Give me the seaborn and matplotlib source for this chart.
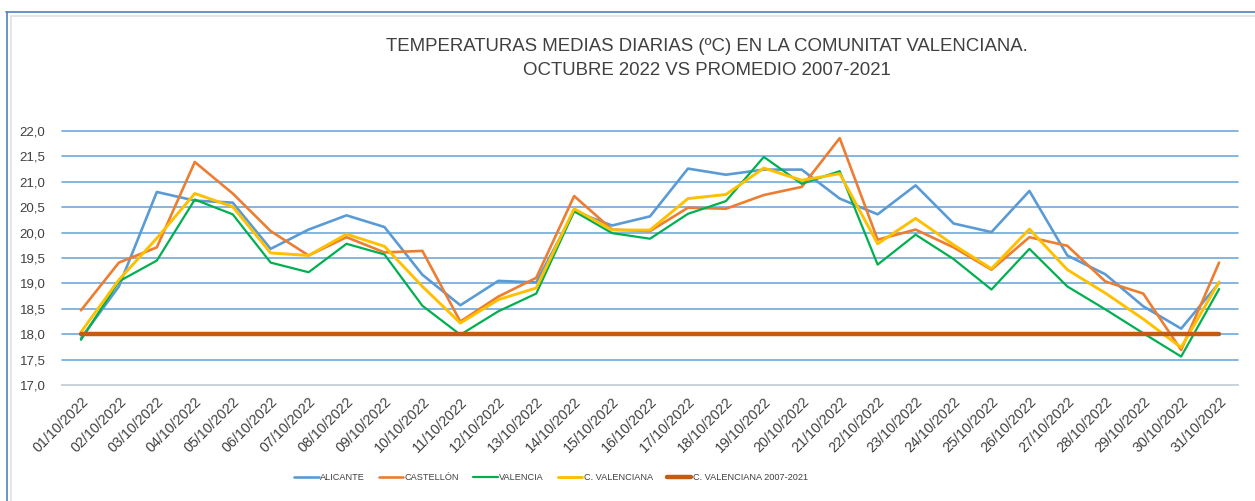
import pandas as pd
import matplotlib
matplotlib.use('Agg')
import matplotlib.pyplot as plt
from matplotlib.lines import Line2D
from matplotlib.ticker import FuncFormatter, MultipleLocator
import seaborn as sns

sns.set_style('white')
plt.rcParams['font.family'] = ['Liberation Sans', 'DejaVu Sans']

# daily mean temperatures, October 2022
dates = ['%02d/10/2022' % d for d in range(1, 32)]
alicante = [17.92, 18.94, 20.80, 20.63, 20.59, 19.68, 20.06, 20.34, 20.11, 19.17,
            18.57, 19.05, 19.02, 20.42, 20.14, 20.32, 21.26, 21.14, 21.24, 21.24,
            20.67, 20.36, 20.93, 20.18, 20.01, 20.82, 19.55, 19.18, 18.55, 18.11, 19.01]
castellon = [18.47, 19.41, 19.71, 21.39, 20.77, 20.03, 19.55, 19.91, 19.61, 19.64,
             18.25, 18.74, 19.11, 20.72, 20.06, 20.03, 20.49, 20.47, 20.74, 20.90,
             21.86, 19.86, 20.06, 19.71, 19.27, 19.91, 19.74, 19.04, 18.80, 17.69, 19.41]
valencia = [17.89, 19.04, 19.45, 20.65, 20.36, 19.41, 19.22, 19.78, 19.57, 18.56,
            17.99, 18.45, 18.80, 20.42, 19.99, 19.88, 20.37, 20.62, 21.49, 20.96,
            21.21, 19.37, 19.96, 19.48, 18.88, 19.68, 18.94, 18.49, 18.02, 17.56, 18.89]
c_valenciana = [18.04, 19.07, 19.89, 20.77, 20.51, 19.60, 19.55, 19.97, 19.73, 18.94,
                18.22, 18.68, 18.91, 20.47, 20.05, 20.05, 20.67, 20.75, 21.27, 21.03,
                21.16, 19.78, 20.28, 19.76, 19.29, 20.07, 19.27, 18.81, 18.30, 17.74, 19.03]
promedio = [18.0] * 31   # C. Valenciana 2007-2021 average

df = pd.DataFrame({'pos': range(len(dates)),
                   'ALICANTE': alicante,
                   'CASTELLÓN': castellon,
                   'VALENCIA': valencia,
                   'C. VALENCIANA': c_valenciana,
                   'C. VALENCIANA 2007-2021': promedio})

colors = {'ALICANTE': '#5B9BD5', 'CASTELLÓN': '#ED7D31', 'VALENCIA': '#00B050',
          'C. VALENCIANA': '#FFC000', 'C. VALENCIANA 2007-2021': '#C55A11'}
widths = {'ALICANTE': 1.9, 'CASTELLÓN': 1.9, 'VALENCIA': 1.6,
          'C. VALENCIANA': 2.1, 'C. VALENCIANA 2007-2021': 3.2}

fig = plt.figure(figsize=(12.55, 5.01), dpi=100)
ax = fig.add_axes([0.0494, 0.2315, 0.9371, 0.507])

for name in colors:
    sns.lineplot(data=df, x='pos', y=name, color=colors[name], linewidth=widths[name],
                 label=name, ax=ax, legend=False)

ax.set_xlim(-0.5, len(dates) - 0.5)
ax.set_ylim(17.0, 22.0)
ax.yaxis.set_major_locator(MultipleLocator(0.5))
ax.yaxis.set_major_formatter(FuncFormatter(lambda v, p: ('%.1f' % v).replace('.', ',')))
ax.set_xticks(range(len(dates)))
ax.set_xticklabels(dates, rotation=45, ha='right', rotation_mode='anchor')
ax.tick_params(axis='x', length=0, pad=7, labelsize=10.3, labelcolor='#404040')
ax.tick_params(axis='y', length=0, pad=12, labelsize=9.5, labelcolor='#404040')
ax.set_xlabel('')
ax.set_ylabel('')

# horizontal gridlines, grey baseline at 17,0
ax.grid(axis='y', color='#6FA8DC', linewidth=1.2)
ax.grid(axis='x', visible=False)
for gl in ax.get_ygridlines():
    gl.set_clip_on(False)
for side in ['top', 'right', 'left']:
    ax.spines[side].set_visible(False)
ax.spines['bottom'].set_color('#D9D9D9')
ax.spines['bottom'].set_linewidth(1.2)
ax.spines['bottom'].set_zorder(0.6)
ax.set_axisbelow(True)

fig.text(0.563, 0.883, 'TEMPERATURAS MEDIAS DIARIAS (ºC) EN LA COMUNITAT VALENCIANA.\nOCTUBRE 2022 VS PROMEDIO 2007-2021',
         ha='center', va='center', fontsize=13.4, color='#404040', linespacing=1.55)

handles, labels = ax.get_legend_handles_labels()
fig.legend(handles, labels, loc='center', bbox_to_anchor=(0.439, 0.046), ncol=5,
           frameon=False, fontsize=6.6, handlelength=2.7, handletextpad=0.15,
           columnspacing=1.5, labelcolor='#404040')

# chart frame
fig.add_artist(Line2D([0.005, 1.0], [0.976, 0.976], transform=fig.transFigure,
                      color='#4F81BD', linewidth=1.2))
fig.add_artist(Line2D([0.0052, 0.0052], [0.0, 0.976], transform=fig.transFigure,
                      color='#4F81BD', linewidth=1.2))
fig.add_artist(Line2D([0.0085, 1.0], [0.969, 0.969], transform=fig.transFigure,
                      color='#E0E0E0', linewidth=1.2))
fig.add_artist(Line2D([0.0085, 0.0085], [0.0, 0.969], transform=fig.transFigure,
                      color='#E0E0E0', linewidth=1.2))

fig.savefig('out.png', dpi=100)
